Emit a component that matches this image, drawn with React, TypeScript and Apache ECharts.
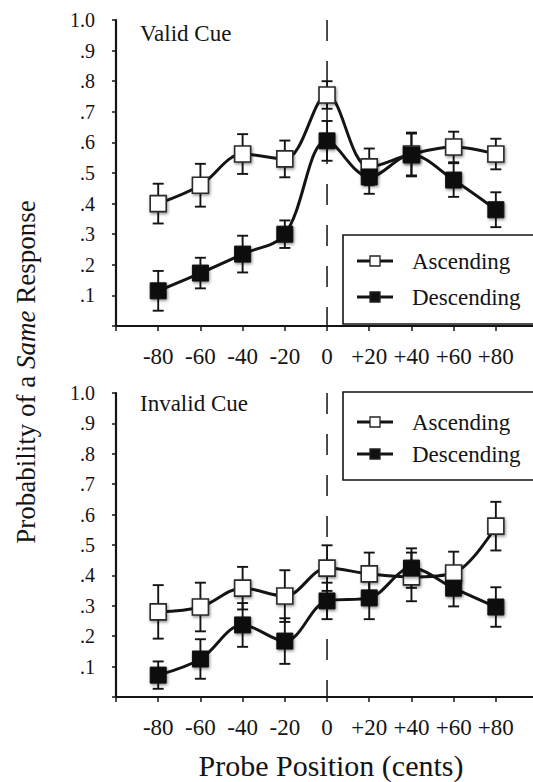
import React, { useEffect, useRef } from "react";
import * as echarts from "echarts";

const positions = [-80, -60, -40, -20, 0, 20, 40, 60, 80];
const tickValues = [-100, -80, -60, -40, -20, 0, 20, 40, 60, 80];
const validAsc = [0.40, 0.46, 0.562, 0.546, 0.755, 0.52, 0.562, 0.585, 0.562];
const validAscErr = [0.065, 0.07, 0.065, 0.06, 0.045, 0.06, 0.07, 0.05, 0.05];
const validDesc = [0.115, 0.173, 0.235, 0.30, 0.605, 0.487, 0.559, 0.477, 0.38];
const validDescErr = [0.065, 0.05, 0.06, 0.045, 0.065, 0.055, 0.07, 0.055, 0.057];
const invalidAsc = [0.28, 0.296, 0.358, 0.332, 0.424, 0.405, 0.395, 0.408, 0.562];
const invalidAscErr = [0.088, 0.08, 0.07, 0.085, 0.075, 0.07, 0.08, 0.07, 0.08];
const invalidDesc = [0.072, 0.125, 0.237, 0.184, 0.316, 0.326, 0.424, 0.358, 0.296];
const invalidDescErr = [0.045, 0.065, 0.072, 0.075, 0.06, 0.07, 0.065, 0.06, 0.065];
const seriesNames = ["Ascending", "Descending"];
const panelTitles = ["Valid Cue", "Invalid Cue"];
const xTitle = "Probe Position (cents)";

const FONT = "Liberation Serif";
const INK = "#141414";

export default function App() {
  const ref = useRef<HTMLDivElement>(null);
  useEffect(() => {
    document.body.style.margin = "0";
    const chart = echarts.init(ref.current!, null, { renderer: "svg" });

    const grids = [
      { left: 116, top: 20, right: 0, height: 306 },
      { left: 116, top: 393, right: 0, height: 304 },
    ];

    const xAxis = grids.map((_, i) => ({
      type: "value",
      gridIndex: i,
      min: -100,
      max: 97.6,
      interval: 20,
      splitLine: { show: false },
      axisLine: { show: true, onZero: false, lineStyle: { color: INK, width: 2.2 } },
      axisTick: {
        show: true,
        length: 5,
        customValues: tickValues,
        lineStyle: { color: INK, width: 1.5 },
      },
      axisLabel: {
        margin: 19,
        fontFamily: FONT,
        fontSize: 23,
        color: INK,
        customValues: positions,
        formatter: (v: number) =>
          positions.indexOf(v) < 0 ? "" : v > 0 ? "+" + v : String(v),
      },
    }));

    const yAxis = grids.map((_, i) => ({
      type: "value",
      gridIndex: i,
      min: 0,
      max: 1,
      interval: 0.1,
      splitLine: { show: false },
      axisLine: { show: true, onZero: false, lineStyle: { color: INK, width: 2.2 } },
      axisTick: { show: true, length: 4, lineStyle: { color: INK, width: 1.5 } },
      axisLabel: {
        margin: 21,
        fontFamily: FONT,
        fontSize: 20,
        color: INK,
        formatter: (v: number) => {
          const t = Math.round(v * 10);
          if (t === 0) return "";
          if (t === 10) return "1.0";
          return "." + t;
        },
      },
    }));

    const panels = [
      { asc: validAsc, ascErr: validAscErr, desc: validDesc, descErr: validDescErr },
      { asc: invalidAsc, ascErr: invalidAscErr, desc: invalidDesc, descErr: invalidDescErr },
    ];

    const errRender = (params: any, api: any) => {
      const x = api.value(0);
      const y = api.value(1);
      const e = api.value(2);
      const t = api.coord([x, y + e]);
      const b = api.coord([x, y - e]);
      const w = 5.5;
      const st = { stroke: INK, lineWidth: 1.9 };
      return {
        type: "group",
        children: [
          { type: "line", shape: { x1: t[0], y1: t[1], x2: b[0], y2: b[1] }, style: st },
          { type: "line", shape: { x1: t[0] - w, y1: t[1], x2: t[0] + w, y2: t[1] }, style: st },
          { type: "line", shape: { x1: b[0] - w, y1: b[1], x2: b[0] + w, y2: b[1] }, style: st },
        ],
      };
    };

    const dashRender = (params: any, api: any) => {
      const x = api.value(0);
      const top = api.coord([x, 1]);
      const bot = api.coord([x, 0]);
      return {
        type: "line",
        shape: { x1: top[0], y1: top[1], x2: bot[0], y2: bot[1] },
        style: { stroke: INK, lineWidth: 1.5, lineDash: [21, 20] },
      };
    };

    const series: any[] = [];
    panels.forEach((p, i) => {
      const mk = (vals: number[], errs: number[]) =>
        positions.map((pos, k) => [pos, vals[k], errs[k]]);
      series.push({
        type: "custom",
        name: "zero-" + i,
        xAxisIndex: i,
        yAxisIndex: i,
        renderItem: dashRender,
        data: [[0, 0.5]],
        encode: { x: 0, y: 1 },
        z: 0,
        silent: true,
      });
      series.push({
        type: "custom",
        name: "err-asc-" + i,
        xAxisIndex: i,
        yAxisIndex: i,
        renderItem: errRender,
        data: mk(p.asc, p.ascErr),
        encode: { x: 0, y: 1 },
        z: 1,
        silent: true,
      });
      series.push({
        type: "custom",
        name: "err-desc-" + i,
        xAxisIndex: i,
        yAxisIndex: i,
        renderItem: errRender,
        data: mk(p.desc, p.descErr),
        encode: { x: 0, y: 1 },
        z: 1,
        silent: true,
      });
      const shadow = {
        shadowBlur: 3,
        shadowColor: "rgba(0,0,0,0.45)",
        shadowOffsetX: 1,
        shadowOffsetY: 1.5,
      };
      series.push({
        type: "line",
        name: seriesNames[0],
        xAxisIndex: i,
        yAxisIndex: i,
        data: positions.map((pos, k) => [pos, p.asc[k]]),
        smooth: 0.35,
        symbol: "rect",
        symbolSize: 16,
        showAllSymbol: true,
        lineStyle: { color: INK, width: 3 },
        itemStyle: { color: "#ffffff", borderColor: "#2a2a2a", borderWidth: 1.6, ...shadow },
        z: 3,
      });
      series.push({
        type: "line",
        name: seriesNames[1],
        xAxisIndex: i,
        yAxisIndex: i,
        data: positions.map((pos, k) => [pos, p.desc[k]]),
        smooth: 0.35,
        symbol: "rect",
        symbolSize: 16,
        showAllSymbol: true,
        lineStyle: { color: INK, width: 3 },
        itemStyle: { color: "#111111", borderColor: "#111111", borderWidth: 1, ...shadow },
        z: 3,
      });
    });

    const legendGraphic = (boxTop: number, boxH: number, y1: number, y2: number) => {
      const items: any[] = [
        {
          type: "rect",
          shape: { x: 343, y: boxTop, width: 192, height: boxH },
          style: { fill: "#ffffff", stroke: INK, lineWidth: 1.6 },
          z: 100,
        },
      ];
      [y1, y2].forEach((yy, k) => {
        items.push({
          type: "line",
          shape: { x1: 357, y1: yy, x2: 393, y2: yy },
          style: { stroke: INK, lineWidth: 3 },
          z: 101,
        });
        items.push({
          type: "rect",
          shape: { x: 370, y: yy - 5, width: 10, height: 10 },
          style: { fill: k === 0 ? "#ffffff" : "#111111", stroke: "#222", lineWidth: 1.3 },
          z: 102,
        });
        items.push({
          type: "text",
          x: 412,
          y: yy,
          style: {
            text: seriesNames[k],
            fontFamily: FONT,
            fontSize: 23,
            fill: INK,
            verticalAlign: "middle",
            align: "left",
          },
          z: 102,
        });
      });
      return items;
    };

    const graphic: any[] = [
      ...legendGraphic(235, 89, 261, 297),
      ...legendGraphic(392, 88, 422, 454),
      {
        type: "text",
        x: 140,
        y: 33,
        style: { text: panelTitles[0], fontFamily: FONT, fontSize: 23, fill: INK, verticalAlign: "middle" },
      },
      {
        type: "text",
        x: 140,
        y: 403,
        style: { text: panelTitles[1], fontFamily: FONT, fontSize: 23, fill: INK, verticalAlign: "middle" },
      },
      {
        type: "text",
        x: 331,
        y: 765,
        style: {
          text: xTitle,
          fontFamily: FONT,
          fontSize: 30,
          fill: INK,
          align: "center",
          verticalAlign: "middle",
        },
      },
      {
        type: "text",
        x: 26,
        y: 372,
        rotation: Math.PI / 2,
        style: {
          text: "{n|Probability of a }{i|Same}{n| Response}",
          align: "center",
          verticalAlign: "middle",
          fill: INK,
          rich: {
            n: { fontFamily: FONT, fontSize: 27, fill: INK },
            i: { fontFamily: FONT, fontSize: 27, fontStyle: "italic", fill: INK },
          },
        },
      },
    ];

    chart.setOption({
      animation: false,
      backgroundColor: "#ffffff",
      grid: grids,
      xAxis,
      yAxis,
      series,
      graphic,
    });
    return () => chart.dispose();
  }, []);
  return <div ref={ref} style={{ width: 533, height: 782, overflow: "hidden" }} />;
}
